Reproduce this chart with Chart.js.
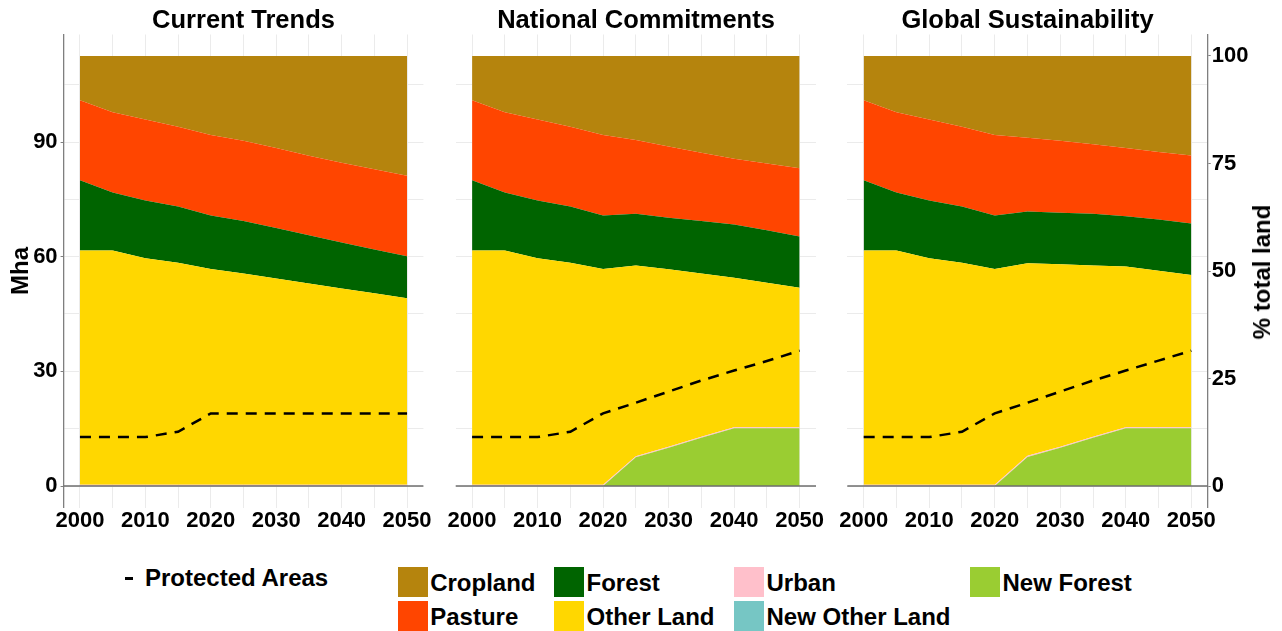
<!DOCTYPE html>
<html>
<head>
<meta charset="utf-8">
<title>Land use scenarios</title>
<script src="https://cdn.jsdelivr.net/npm/chart.js@4.4.1/dist/chart.umd.min.js"></script>
<style>
  body {
    margin: 0;
    width: 1282px;
    height: 631px;
    overflow: hidden;
    position: relative;
    background: #fff;
    font-family: 'Liberation Sans', Arial, sans-serif;
    font-weight: bold;
    color: #000;
  }
  canvas { position: absolute; top: 0; }
  .title {
    position: absolute; top: 7px;
    font-size: 25.5px; line-height: 25px;
    white-space: nowrap; transform: translateX(-50%);
  }
  .axis-title {
    position: absolute;
    font-size: 24px; line-height: 24px;
    white-space: nowrap;
    transform: translate(-50%, -50%) rotate(-90deg);
  }
  .key { position: absolute; width: 30px; height: 30px; }
  .lbl { position: absolute; font-size: 24px; line-height: 24px; white-space: nowrap; }
  .dash { position: absolute; left: 125px; top: 577px; width: 8px; height: 2.5px; background: #000; }
</style>
</head>
<body>

<canvas id="panel1" width="440" height="545" style="left:0px"></canvas>
<canvas id="panel2" width="400" height="545" style="left:440px"></canvas>
<canvas id="panel3" width="452" height="545" style="left:830px"></canvas>

<div class="title" style="left:243.5px">Current Trends</div>
<div class="title" style="left:636px">National Commitments</div>
<div class="title" style="left:1027.5px">Global Sustainability</div>

<div class="axis-title" style="left:20px; top:271px">Mha</div>
<div class="axis-title" style="left:1262px; top:272px">% total land</div>

<div id="legend"></div>

<script>
// ---- data (Mha per land class, stacked bottom to top) ----
const years = [2000, 2005, 2010, 2015, 2020, 2025, 2030, 2035, 2040, 2045, 2050];
const panelTitles = ['Current Trends', 'National Commitments', 'Global Sustainability'];

const landClasses = ['New Forest', 'Urban', 'New Other Land', 'Other Land', 'Forest', 'Pasture', 'Cropland'];

// Current Trends
const ctNewForest = [0, 0, 0, 0, 0, 0, 0, 0, 0, 0, 0];
const ctUrban     = [0.3, 0.3, 0.3, 0.3, 0.3, 0.3, 0.3, 0.3, 0.3, 0.3, 0.3];
const ctNewOther  = [0, 0, 0, 0, 0, 0, 0, 0, 0, 0, 0];
const ctOther     = [61.3, 61.3, 59.3, 58.1, 56.5, 55.3, 54.0, 52.7, 51.4, 50.1, 48.8];
const ctForest    = [18.4, 15.2, 15.1, 14.7, 14.0, 13.7, 13.2, 12.6, 12.0, 11.5, 11.0];
const ctPasture   = [20.9, 21.0, 21.2, 20.9, 21.0, 21.0, 20.9, 20.8, 20.9, 21.0, 21.1];
const ctCropland  = [11.6, 14.7, 16.6, 18.5, 20.7, 22.2, 24.1, 26.1, 27.9, 29.6, 31.3];
const ctProtected = [12.8, 12.8, 12.8, 14.2, 19.0, 19.0, 19.0, 19.0, 19.0, 19.0, 19.0];

// National Commitments
const ncNewForest = [0, 0, 0, 0, 0, 7.5, 10.0, 12.6, 15.1, 15.1, 15.1];
const ncUrban     = [0.3, 0.3, 0.3, 0.3, 0.3, 0.3, 0.3, 0.3, 0.3, 0.3, 0.3];
const ncNewOther  = [0, 0, 0, 0, 0, 0, 0, 0, 0, 0, 0];
const ncOther     = [61.3, 61.3, 59.3, 58.1, 56.5, 49.9, 46.4, 42.7, 39.1, 37.8, 36.5];
const ncForest    = [18.4, 15.2, 15.1, 14.7, 14.0, 13.5, 13.5, 13.7, 13.9, 13.7, 13.4];
const ncPasture   = [20.9, 21.0, 21.2, 20.9, 21.0, 19.3, 18.6, 17.9, 17.2, 17.5, 17.8];
const ncCropland  = [11.6, 14.7, 16.6, 18.5, 20.7, 22.0, 23.7, 25.3, 26.9, 28.1, 29.4];
const ncProtected = [12.8, 12.8, 12.8, 14.2, 19.0, 21.8, 24.7, 27.6, 30.2, 32.7, 35.4];

// Global Sustainability
const gsNewForest = [0, 0, 0, 0, 0, 7.6, 10.0, 12.6, 15.1, 15.1, 15.1];
const gsUrban     = [0.3, 0.3, 0.3, 0.3, 0.3, 0.3, 0.3, 0.3, 0.3, 0.3, 0.3];
const gsNewOther  = [0, 0, 0, 0, 0, 0, 0, 0, 0, 0, 0];
const gsOther     = [61.3, 61.3, 59.3, 58.1, 56.5, 50.4, 47.7, 44.8, 42.0, 40.9, 39.8];
const gsForest    = [18.4, 15.2, 15.1, 14.7, 14.0, 13.5, 13.5, 13.5, 13.2, 13.4, 13.5];
const gsPasture   = [20.9, 21.0, 21.2, 20.9, 21.0, 19.3, 18.8, 18.2, 17.8, 17.7, 17.8];
const gsCropland  = [11.6, 14.7, 16.6, 18.5, 20.7, 21.4, 22.2, 23.1, 24.1, 25.1, 26.0];
const gsProtected = [12.8, 12.8, 12.8, 14.2, 19.0, 21.8, 24.7, 27.6, 30.2, 32.8, 35.4];

// axis ticks
const mhaTicks = [0, 15, 30, 45, 60, 75, 90, 105];
const pctTicks = [0, 25, 50, 75, 100];

// ---- styling ----
const classColors = {
  'Cropland': '#B5840D',
  'Pasture': '#FF4500',
  'Forest': '#006400',
  'Other Land': '#FFD700',
  'Urban': '#FFC0CB',
  'New Other Land': '#76C6C4',
  'New Forest': '#9ACD32'
};
const gridColor = '#ebebeb';
const axisColor = '#7f7f7f';
const tickFont = { family: "'Liberation Sans', Arial, sans-serif", size: 22, weight: 'bold' };

// y range in Mha with a little room above and below, 100 % = 112.5 Mha
const yMin = -5.625, yMax = 118.125;
const pctMin = -5, pctMax = 105;

// dark reference line at zero drawn over the areas
const zeroLine = {
  id: 'zeroLine',
  afterDatasetsDraw(chart) {
    const { ctx, chartArea, scales } = chart;
    const y = scales.y.getPixelForValue(0);
    ctx.save();
    ctx.strokeStyle = '#6e6e6e';
    ctx.lineWidth = 1.5;
    ctx.beginPath();
    ctx.moveTo(chartArea.left, y);
    ctx.lineTo(chartArea.right, y);
    ctx.stroke();
    ctx.restore();
  }
};

function makePanel(canvasId, series, protectedAreas, layout) {
  const datasets = landClasses.map((name, i) => ({
    label: name,
    data: series[i],
    yAxisID: 'y',
    backgroundColor: classColors[name],
    borderColor: 'rgba(0,0,0,0)',
    borderWidth: 0,
    pointRadius: 0,
    tension: 0,
    fill: i === 0 ? 'origin' : '-1'
  }));
  datasets.push({
    label: 'Protected Areas',
    data: protectedAreas,
    yAxisID: 'yPa',
    borderColor: '#000',
    borderWidth: 2.5,
    borderDash: [11, 8],
    pointRadius: 0,
    tension: 0,
    fill: false,
    order: -1
  });

  const scales = {
    x: {
      type: 'linear',
      min: 1997.5,
      max: 2052.5,
      afterBuildTicks: s => { s.ticks = years.map(v => ({ value: v })); },
      ticks: {
        callback: v => (v % 10 === 0 ? String(v) : ''),
        font: tickFont,
        color: '#000',
        padding: 0,
        maxRotation: 0,
        autoSkip: false
      },
      grid: { color: gridColor, lineWidth: 1, drawTicks: false },
      border: { display: false },
      afterFit: s => { s.height = 37.5; }
    },
    y: {
      stacked: true,
      min: yMin,
      max: yMax,
      afterBuildTicks: s => { s.ticks = mhaTicks.map(v => ({ value: v })); },
      ticks: {
        display: layout.leftLabels,
        callback: v => (v % 30 === 0 ? String(v) : ''),
        font: tickFont,
        color: '#000',
        padding: 3
      },
      grid: {
        color: gridColor,
        lineWidth: 1,
        tickLength: 3,
        tickColor: c => (layout.leftLabels && c.tick && c.tick.value % 30 === 0) ? axisColor : 'rgba(0,0,0,0)'
      },
      border: { display: layout.leftLabels, color: axisColor, width: 1.3 },
      afterFit: s => { s.width = layout.leftWidth; }
    },
    yPa: {
      display: false,
      min: yMin,
      max: yMax
    }
  };

  if (layout.pctAxis) {
    scales.yPct = {
      position: 'right',
      min: pctMin,
      max: pctMax,
      afterBuildTicks: s => { s.ticks = pctTicks.map(v => ({ value: v })); },
      ticks: { font: tickFont, color: '#000', padding: 1 },
      grid: { drawOnChartArea: false, tickLength: 3, tickColor: axisColor },
      border: { display: true, color: axisColor, width: 1.3 },
      afterFit: s => { s.width = layout.pctWidth; }
    };
  }

  return new Chart(document.getElementById(canvasId), {
    type: 'line',
    data: { datasets },
    options: {
      responsive: false,
      animation: false,
      devicePixelRatio: 1,
      layout: { padding: { left: 0, right: layout.rightPad, top: 34.5, bottom: 0 } },
      plugins: { legend: { display: false }, tooltip: { enabled: false } },
      scales
    },
    plugins: [zeroLine]
  });
}

function toPoints(arr) {
  return arr.map((v, i) => ({ x: years[i], y: v }));
}

const ctSeries = [ctNewForest, ctUrban, ctNewOther, ctOther, ctForest, ctPasture, ctCropland].map(toPoints);
const ncSeries = [ncNewForest, ncUrban, ncNewOther, ncOther, ncForest, ncPasture, ncCropland].map(toPoints);
const gsSeries = [gsNewForest, gsUrban, gsNewOther, gsOther, gsForest, gsPasture, gsCropland].map(toPoints);

makePanel('panel1', ctSeries, toPoints(ctProtected), { leftLabels: true, leftWidth: 63.6, rightPad: 16.6 });
makePanel('panel2', ncSeries, toPoints(ncProtected), { leftLabels: false, leftWidth: 15.7, rightPad: 24 });
makePanel('panel3', gsSeries, toPoints(gsProtected), { leftLabels: false, leftWidth: 17.3, rightPad: 0, pctAxis: true, pctWidth: 74.3 });

// ---- legend ----
const legendItems = [
  { name: 'Cropland',       boxX: 397.7, row: 0 },
  { name: 'Pasture',        boxX: 397.7, row: 1 },
  { name: 'Forest',         boxX: 554,   row: 0 },
  { name: 'Other Land',     boxX: 554,   row: 1 },
  { name: 'Urban',          boxX: 734,   row: 0 },
  { name: 'New Other Land', boxX: 734,   row: 1 },
  { name: 'New Forest',     boxX: 970,   row: 0 }
];
const legend = document.getElementById('legend');
let html = '<div class="dash"></div><div class="lbl" style="left:145px; top:566px">Protected Areas</div>';
legendItems.forEach(item => {
  const boxY = item.row === 0 ? 566.7 : 601.2;
  html += `<div class="key" style="left:${item.boxX}px; top:${boxY}px; background:${classColors[item.name]}"></div>`;
  html += `<div class="lbl" style="left:${item.boxX + 32.5}px; top:${boxY + 4}px">${item.name}</div>`;
});
legend.innerHTML = html;
</script>
</body>
</html>
